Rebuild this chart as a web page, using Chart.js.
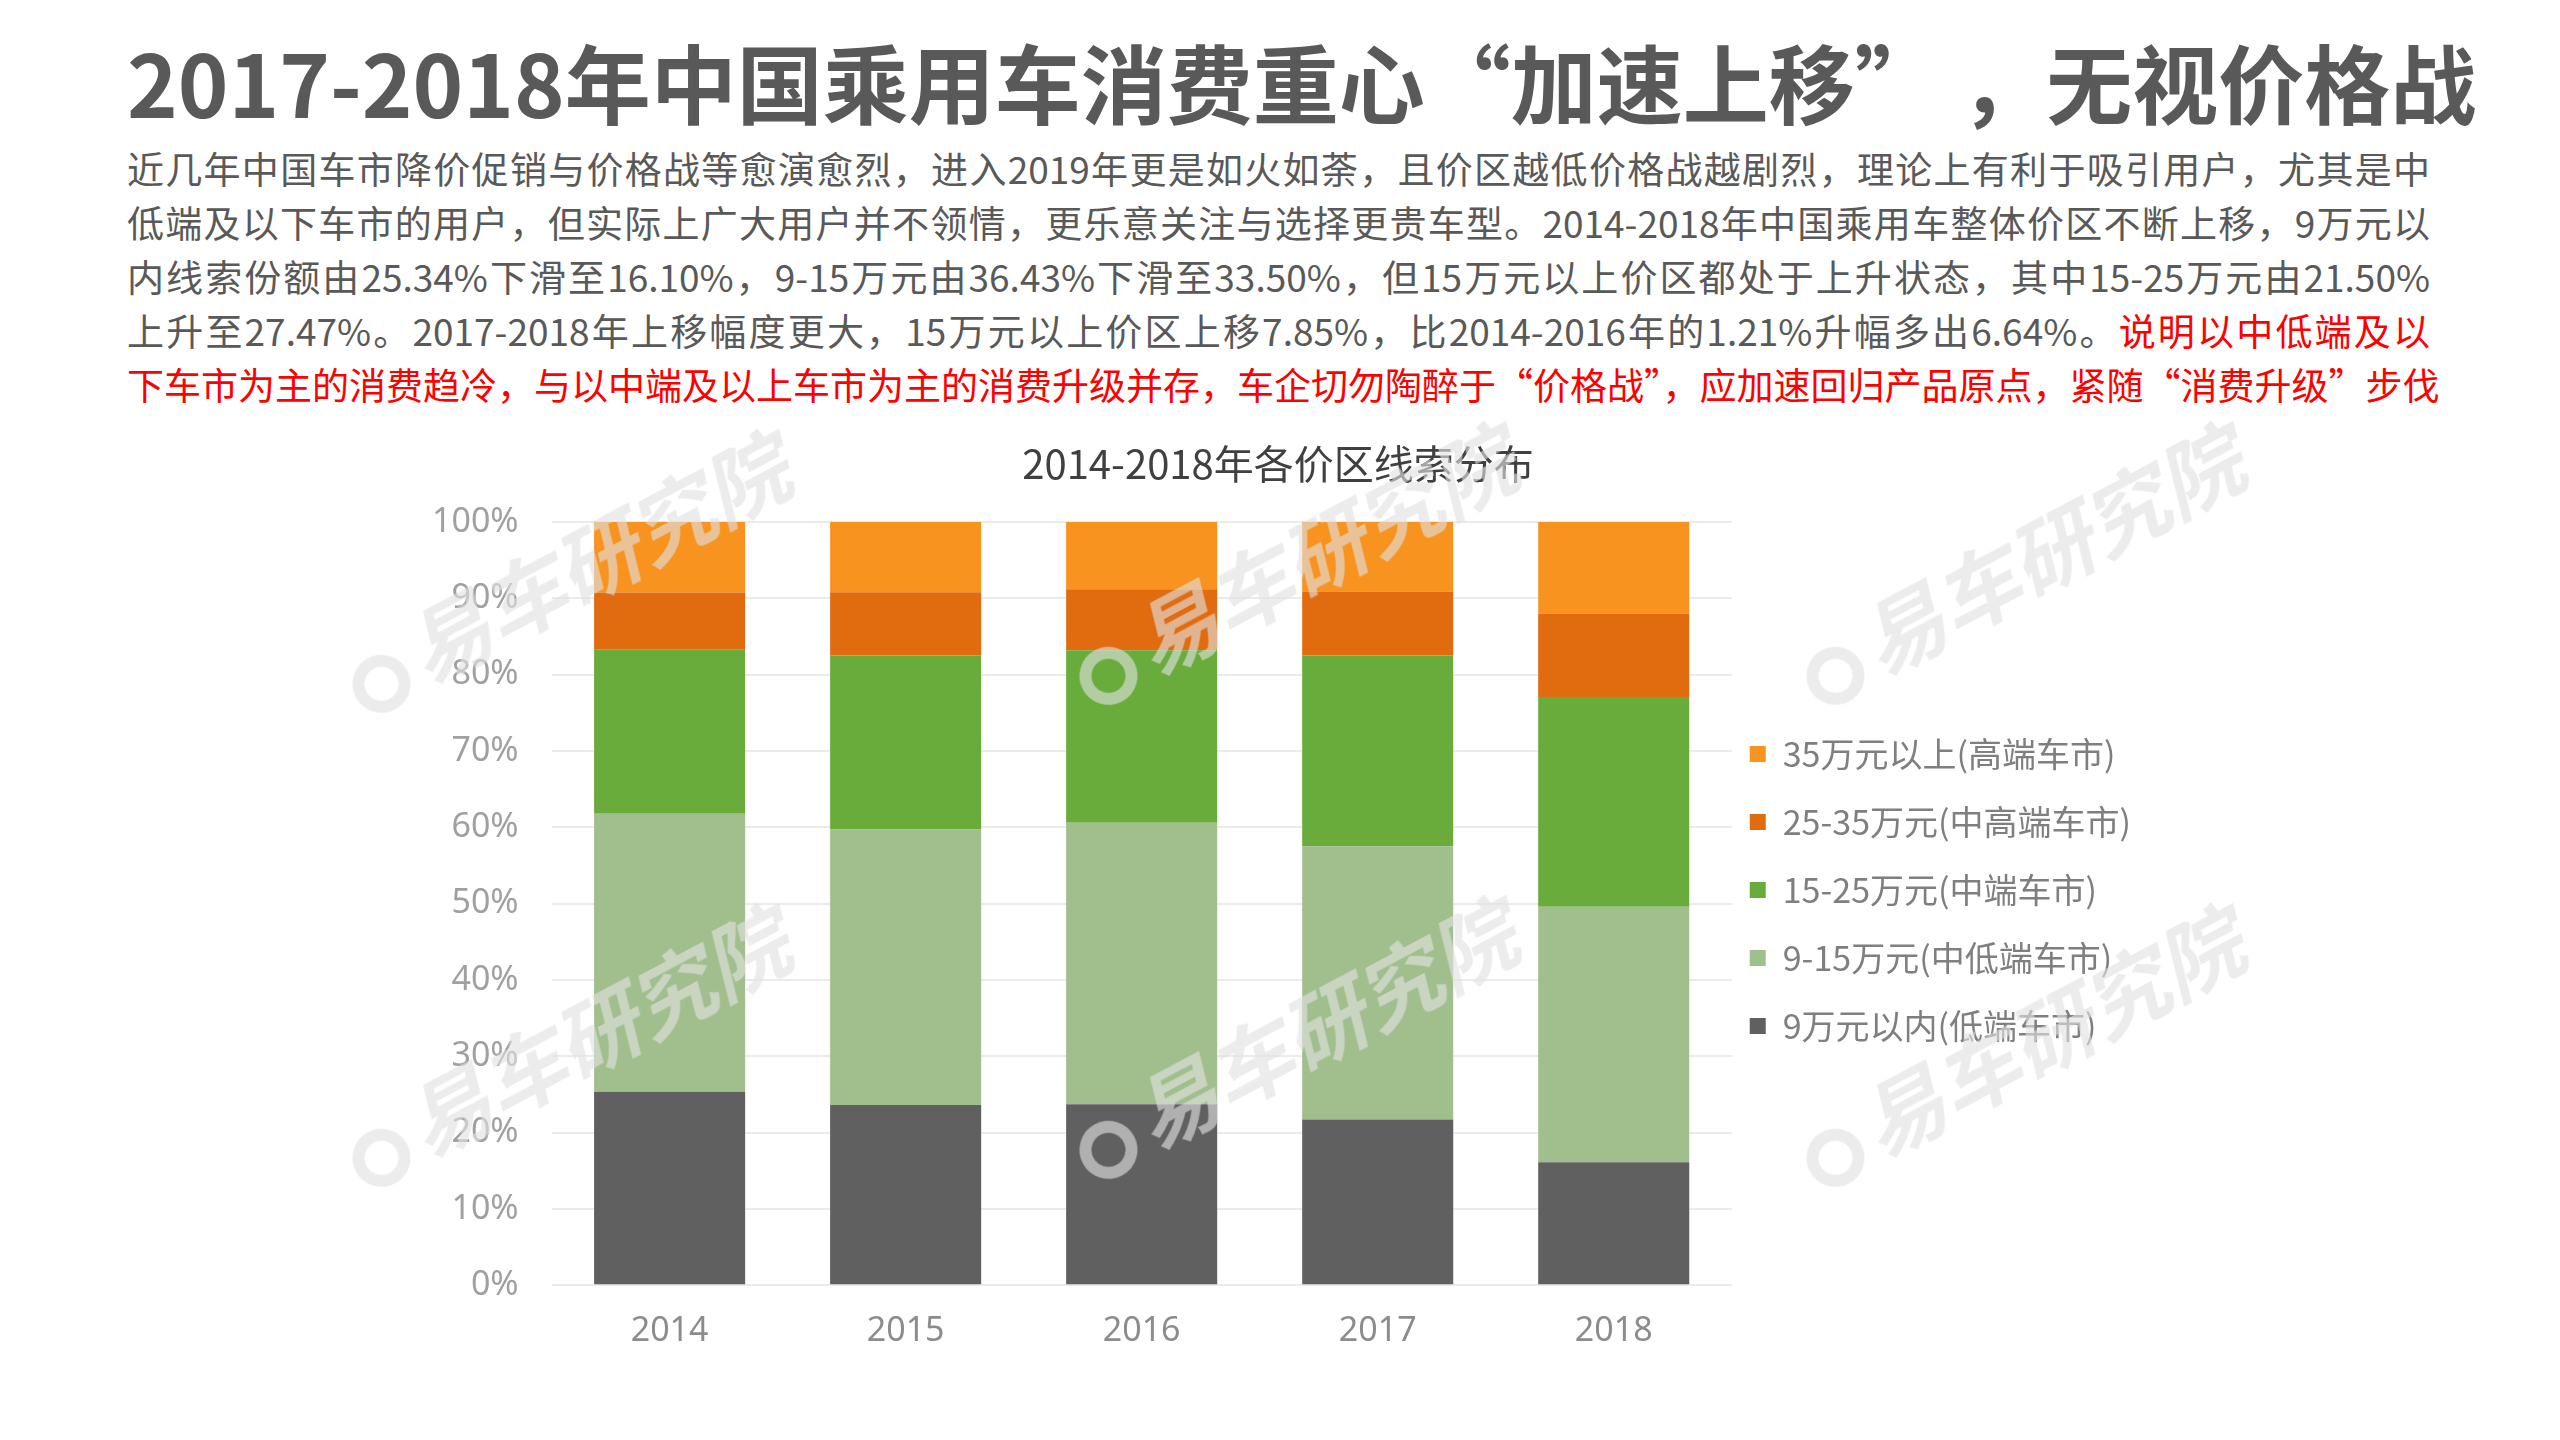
<!DOCTYPE html>
<html>
<head>
<meta charset="utf-8">
<script src="https://cdn.jsdelivr.net/npm/chart.js@4.4.1/dist/chart.umd.min.js"></script>
<style>
  body { margin: 0; width: 2560px; height: 1440px; background: #fff; overflow: hidden; position: relative; font-family: "Noto Sans CJK SC", "Noto Sans", sans-serif; }
  #title { position: absolute; left: 127px; top: 29px; width: 2400px; font-size: 86px; line-height: 104px; font-weight: bold; color: #595959; white-space: nowrap; }
  #text { position: absolute; left: 127px; top: 141px; width: 2303px; font-size: 37px; line-height: 54px; color: #595959; }
  #text div { text-align: justify; text-align-last: justify; white-space: nowrap; }
  .red { color: #ff0000; }
  #wrap { position: absolute; left: 364px; top: 430px; width: 1836px; height: 940px; }
  .wm { position: absolute; font-size: 84px; font-style: italic; color: rgba(225,225,225,0.62); white-space: nowrap; transform: translate(-50%,-50%) rotate(-28deg); pointer-events: none; font-weight: bold; }
  .wm span { display: inline-block; width: 34px; height: 34px; border: 12px solid rgba(225,225,225,0.62); border-radius: 50%; margin-right: 10px; vertical-align: middle; }
</style>
</head>
<body>
<div id="title">2017-2018年中国乘用车消费重心“加速上移” ，无视价格战</div>
<div id="text">
  <div>近几年中国车市降价促销与价格战等愈演愈烈，进入2019年更是如火如荼，且价区越低价格战越剧烈，理论上有利于吸引用户，尤其是中</div>
  <div>低端及以下车市的用户，但实际上广大用户并不领情，更乐意关注与选择更贵车型。2014-2018年中国乘用车整体价区不断上移，9万元以</div>
  <div>内线索份额由25.34%下滑至16.10%，9-15万元由36.43%下滑至33.50%，但15万元以上价区都处于上升状态，其中15-25万元由21.50%</div>
  <div>上升至27.47%。2017-2018年上移幅度更大，15万元以上价区上移7.85%，比2014-2016年的1.21%升幅多出6.64%。<span class="red">说明以中低端及以</span></div>
  <div class="red">下车市为主的消费趋冷，与以中端及以上车市为主的消费升级并存，车企切勿陶醉于“价格战”，应加速回归产品原点，紧随“消费升级”步伐</div>
</div>
<div id="wrap"><canvas id="chart"></canvas></div>
<div class="wm" style="left:565px;top:571px;"><span></span>易车研究院</div>
<div class="wm" style="left:1292px;top:563px;"><span></span>易车研究院</div>
<div class="wm" style="left:2019px;top:563px;"><span></span>易车研究院</div>
<div class="wm" style="left:565px;top:1045px;"><span></span>易车研究院</div>
<div class="wm" style="left:1292px;top:1037px;"><span></span>易车研究院</div>
<div class="wm" style="left:2019px;top:1045px;"><span></span>易车研究院</div>
<script>
// 各价区线索份额 (%)
const years = ['2014', '2015', '2016', '2017', '2018'];
const seriesNames = ['9万元以内(低端车市)', '9-15万元(中低端车市)', '15-25万元(中端车市)', '25-35万元(中高端车市)', '35万元以上(高端车市)'];
const below9 = [25.34, 23.6, 23.7, 21.7, 16.10];
const from9to15 = [36.43, 36.1, 36.9, 35.8, 33.50];
const from15to25 = [21.50, 22.8, 22.6, 25.0, 27.47];
const from25to35 = [7.50, 8.3, 8.0, 8.4, 10.93];
const above35 = [9.23, 9.2, 8.8, 9.1, 12.0];
const colors = ['#606060', '#a1bf8d', '#69ac3b', '#e06c0f', '#f7931e'];

const values = [below9, from9to15, from15to25, from25to35, above35];

// nudge the legend a bit left/up, like the original slide
const legendNudge = {
    id: 'legendNudge',
    afterLayout(chart) {
        const lg = chart.legend;
        lg.left -= 16; lg.right -= 16;
        lg.top -= 10; lg.bottom -= 10;
    }
};

const ctx = document.getElementById('chart').getContext('2d');
new Chart(ctx, {
    type: 'bar',
    data: {
        labels: years,
        datasets: values.map((v, i) => ({
            label: seriesNames[i],
            data: v,
            backgroundColor: colors[i],
            borderWidth: 0,
            barPercentage: 0.8,
            categoryPercentage: 0.8
        }))
    },
    options: {
        responsive: true,
        maintainAspectRatio: false,
        animation: false,
        layout: { padding: { left: 35, right: 43, top: 0, bottom: 0 } },
        plugins: {
            title: {
                display: true,
                text: '2014-2018年各价区线索分布',
                color: '#404040',
                font: { family: '"Noto Sans CJK SC"', size: 40, weight: 'normal' },
                padding: { top: 10, bottom: 34 }
            },
            legend: {
                position: 'right',
                reverse: true,
                labels: {
                    boxWidth: 16,
                    boxHeight: 16,
                    padding: 34,
                    color: '#7f7f7f',
                    font: { family: '"Noto Sans CJK SC"', size: 34 }
                }
            },
            tooltip: { enabled: false }
        },
        scales: {
            x: {
                stacked: true,
                grid: { display: false },
                border: { display: false },
                ticks: { color: '#8c8c8c', padding: 18, font: { family: '"Noto Sans", "Noto Sans CJK SC"', size: 34 } }
            },
            y: {
                stacked: true,
                min: 0,
                max: 100,
                grid: { color: '#ebebeb', lineWidth: 2, drawTicks: false },
                border: { display: false },
                ticks: {
                    stepSize: 10,
                    padding: 33,
                    color: '#a0a0a0',
                    font: { family: '"Noto Sans", "Noto Sans CJK SC"', size: 34 },
                    callback: v => v + '%'
                }
            }
        }
    },
    plugins: [legendNudge]
});
</script>
</body>
</html>
